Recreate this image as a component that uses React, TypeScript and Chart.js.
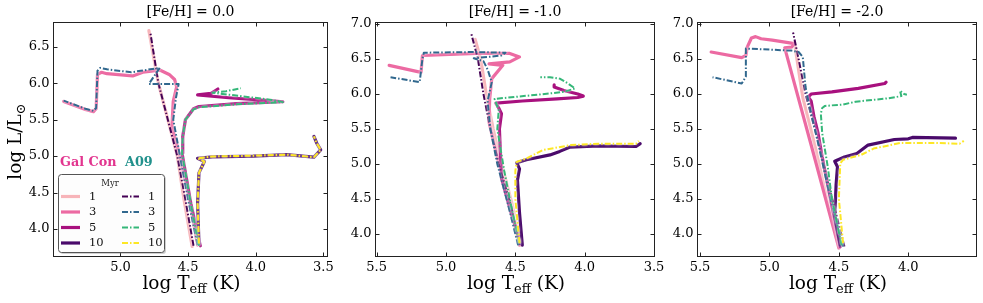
import React, { useEffect, useRef } from "react";
import { Chart, registerables } from "chart.js";
Chart.register(...registerables);

type Track = [number, number][];

// ---------- labels / ticks ----------
const AGES = ["1", "3", "5", "10"];
const TITLES = ["[Fe/H] = 0.0", "[Fe/H] = -1.0", "[Fe/H] = -2.0"];
const X_TICKS = [
  [5.0, 4.5, 4.0, 3.5],
  [5.5, 5.0, 4.5, 4.0, 3.5],
  [5.5, 5.0, 4.5, 4.0],
];
const Y_TICKS = [
  [4.0, 4.5, 5.0, 5.5, 6.0, 6.5],
  [4.0, 4.5, 5.0, 5.5, 6.0, 6.5, 7.0],
  [4.0, 4.5, 5.0, 5.5, 6.0, 6.5, 7.0],
];
const X_RANGE = [
  [3.466, 5.499],
  [3.493, 5.512],
  [3.505, 5.522],
];
const Y_RANGE = [
  [3.616, 6.839],
  [3.671, 7.029],
  [3.671, 7.029],
];

const GALCON_COLORS = ["#f7b4b9", "#ec6aa2", "#a8107e", "#4a0a6b"];
const A09_COLORS = ["#440154", "#31688e", "#35b779", "#fde725"];
const GALCON_TEXT = "#e2358f";
const A09_TEXT = "#21918c";

// ---------- [Fe/H] = 0.0 ----------
const GC_00_1: Track = [[4.47, 3.76], [4.53, 4.4], [4.58, 5.0], [4.65, 5.5], [4.72, 6.0], [4.79, 6.72]];
const GC_00_3: Track = [[4.43, 3.78], [4.49, 4.4], [4.56, 5.0], [4.62, 5.4], [4.61, 5.75], [4.585, 5.95], [4.60, 6.05], [4.64, 6.12], [4.71, 6.18], [4.835, 6.15], [4.91, 6.10], [5.10, 6.13], [5.14, 6.15], [5.17, 6.12], [5.18, 5.65], [5.20, 5.61], [5.26, 5.64], [5.42, 5.75]];
const GC_00_5: Track = [[4.41, 3.77], [4.48, 4.35], [4.545, 5.04], [4.54, 5.27], [4.52, 5.50], [4.46, 5.65], [4.42, 5.68], [4.14, 5.72], [3.80, 5.745], [3.90, 5.76], [4.20, 5.80], [4.43, 5.84], [4.33, 5.86], [4.28, 5.92]];
const GC_00_10: Track = [[4.42, 3.80], [4.43, 4.35], [4.42, 4.77], [4.38, 4.925], [4.43, 4.97], [4.32, 4.99], [4.02, 5.0], [3.77, 5.02], [3.57, 4.985], [3.52, 5.085], [3.55, 5.18], [3.57, 5.27]];
const A09_00_1: Track = [[4.46, 3.77], [4.52, 4.4], [4.58, 5.0], [4.65, 5.5], [4.72, 6.0], [4.78, 6.70]];
const A09_00_3: Track = [[4.43, 3.78], [4.50, 4.4], [4.56, 5.0], [4.61, 5.5], [4.59, 5.80], [4.57, 5.99], [4.79, 5.99], [4.71, 6.21], [4.85, 6.17], [4.92, 6.15], [5.10, 6.19], [5.15, 6.21], [5.17, 6.17], [5.18, 5.66], [5.20, 5.62], [5.26, 5.65], [5.42, 5.76]];
const A09_00_5: Track = [[4.42, 3.77], [4.48, 4.35], [4.545, 5.04], [4.54, 5.27], [4.52, 5.50], [4.46, 5.64], [4.42, 5.67], [4.14, 5.71], [3.80, 5.74], [3.88, 5.77], [4.10, 5.82], [4.32, 5.87], [4.22, 5.89], [4.11, 5.93]];
const A09_00_10: Track = [[4.42, 3.80], [4.43, 4.35], [4.42, 4.77], [4.38, 4.925], [4.43, 4.97], [4.32, 4.995], [4.02, 5.005], [3.77, 5.02], [3.57, 4.985], [3.52, 5.085], [3.55, 5.18], [3.57, 5.27]];

// ---------- [Fe/H] = -1.0 ----------
const GC_10_1: Track = [[4.46, 3.84], [4.52, 4.4], [4.60, 5.0], [4.66, 5.5], [4.71, 6.0], [4.75, 6.5], [4.79, 6.78]];
const GC_10_3: Track = [[4.47, 3.84], [4.55, 4.5], [4.65, 5.25], [4.69, 5.6], [4.685, 5.93], [4.67, 6.22], [4.59, 6.41], [4.69, 6.43], [4.54, 6.46], [4.47, 6.53], [4.54, 6.58], [4.78, 6.58], [5.17, 6.55], [5.18, 6.31], [5.41, 6.41]];
const GC_10_5: Track = [[4.46, 3.86], [4.53, 4.3], [4.60, 4.8], [4.615, 5.5], [4.60, 5.72], [4.62, 5.80], [4.64, 5.87], [4.45, 5.90], [4.20, 5.93], [4.05, 5.95], [4.01, 5.97], [4.05, 6.0], [4.15, 6.05], [4.22, 6.10], [4.22, 6.13]];
const GC_10_10: Track = [[4.45, 3.84], [4.47, 4.3], [4.485, 4.77], [4.47, 4.93], [4.49, 5.02], [4.42, 5.06], [4.25, 5.13], [4.18, 5.18], [4.11, 5.24], [3.90, 5.26], [3.63, 5.25], [3.60, 5.29]];
const A09_10_1: Track = [[4.47, 3.84], [4.53, 4.4], [4.62, 5.0], [4.68, 5.5], [4.73, 6.0], [4.77, 6.5], [4.82, 6.88]];
const A09_10_3: Track = [[4.48, 3.84], [4.55, 4.4], [4.63, 5.0], [4.68, 5.5], [4.70, 5.9], [4.67, 6.17], [4.70, 6.35], [4.73, 6.47], [4.80, 6.51], [4.60, 6.55], [4.57, 6.59], [4.80, 6.60], [5.16, 6.59], [5.17, 6.50], [5.19, 6.17], [5.40, 6.24]];
const A09_10_5: Track = [[4.47, 3.87], [4.53, 4.4], [4.58, 4.9], [4.63, 5.5], [4.62, 5.77], [4.65, 5.93], [4.34, 5.99], [4.15, 6.03], [4.07, 6.08], [4.12, 6.15], [4.18, 6.22], [4.25, 6.24], [4.32, 6.24]];
const A09_10_10: Track = [[4.47, 3.87], [4.50, 4.5], [4.50, 4.9], [4.49, 5.03], [4.42, 5.08], [4.30, 5.20], [4.10, 5.27], [3.90, 5.29], [3.63, 5.29], [3.61, 5.33]];

// ---------- [Fe/H] = -2.0 ----------
const GC_20_1: Track = [[4.495, 3.80], [4.58, 4.45], [4.665, 5.2], [4.76, 5.95], [4.82, 6.74]];
const GC_20_3: Track = [[4.50, 3.80], [4.69, 5.2], [4.89, 6.66], [4.84, 6.67], [4.82, 6.72], [4.98, 6.77], [5.06, 6.79], [5.10, 6.82], [5.13, 6.80], [5.16, 6.67], [5.17, 6.55], [5.20, 6.52], [5.42, 6.60]];
const GC_20_5: Track = [[4.49, 3.82], [4.56, 4.5], [4.62, 5.1], [4.65, 5.44], [4.68, 5.68], [4.70, 5.90], [4.72, 5.96], [4.70, 6.0], [4.55, 6.03], [4.36, 6.08], [4.17, 6.15], [4.16, 6.17]];
const GC_20_10: Track = [[4.49, 3.84], [4.53, 4.25], [4.52, 4.7], [4.51, 4.96], [4.53, 5.04], [4.46, 5.10], [4.37, 5.15], [4.29, 5.27], [4.10, 5.35], [4.00, 5.36], [3.97, 5.38], [3.66, 5.37]];
const A09_20_1: Track = [[4.46, 3.82], [4.56, 4.6], [4.66, 5.4], [4.74, 6.0], [4.79, 6.5], [4.83, 6.88]];
const A09_20_3: Track = [[4.47, 3.82], [4.56, 4.5], [4.65, 5.3], [4.72, 5.9], [4.74, 6.10], [4.75, 6.31], [4.76, 6.53], [4.79, 6.60], [4.84, 6.62], [5.17, 6.65], [5.17, 6.25], [5.20, 6.15], [5.41, 6.24]];
const A09_20_5: Track = [[4.48, 3.84], [4.55, 4.5], [4.58, 4.96], [4.62, 5.44], [4.63, 5.72], [4.62, 5.80], [4.60, 5.83], [4.47, 5.85], [4.38, 5.89], [4.14, 5.94], [4.05, 5.97], [4.06, 6.05], [4.03, 6.0], [4.01, 5.99]];
const A09_20_10: Track = [[4.47, 3.87], [4.50, 4.5], [4.49, 5.01], [4.47, 5.06], [4.34, 5.13], [4.25, 5.22], [4.06, 5.30], [3.80, 5.30], [3.63, 5.29], [3.60, 5.33]];

const GALCON: Track[][] = [
  [GC_00_1, GC_00_3, GC_00_5, GC_00_10],
  [GC_10_1, GC_10_3, GC_10_5, GC_10_10],
  [GC_20_1, GC_20_3, GC_20_5, GC_20_10],
];
const A09: Track[][] = [
  [A09_00_1, A09_00_3, A09_00_5, A09_00_10],
  [A09_10_1, A09_10_3, A09_10_5, A09_10_10],
  [A09_20_1, A09_20_3, A09_20_5, A09_20_10],
];

// ---------- layout ----------
const PANELS = [
  { left: 0, width: 345, yW: 53, padR: 17 },
  { left: 340, width: 330, yW: 35, padR: 15 },
  { left: 662, width: 321, yW: 35, padR: 6 },
];
const H = 303;
const SERIF = '"DejaVu Serif", "DejaVu Sans", serif';
const A09_DASH = [6, 2, 1.5, 2];
const GC_W = 3.2;
const A09_W = 2;
const TEXT = "#000";

function drawSubText(ctx: CanvasRenderingContext2D, parts: [string, boolean][], cx: number, base: number, big: number) {
  const small = big * 0.7;
  let total = 0;
  const widths = parts.map(([t, sub]) => {
    ctx.font = `${sub ? small : big}px ${SERIF}`;
    const w = ctx.measureText(t).width;
    total += w;
    return w;
  });
  let x = cx - total / 2;
  ctx.textAlign = "left";
  ctx.textBaseline = "alphabetic";
  parts.forEach(([t, sub], i) => {
    ctx.font = `${sub ? small : big}px ${SERIF}`;
    ctx.fillText(t, x, base + (sub ? big * 0.2 : 0));
    x += widths[i];
  });
}

const haloPlugin = {
  id: "halo",
  beforeDatasetDraw(chart: any) {
    const ctx = chart.ctx;
    ctx.save();
    ctx.shadowColor = "rgba(255,255,255,1)";
    ctx.shadowBlur = 2.5;
  },
  afterDatasetDraw(chart: any) {
    chart.ctx.restore();
  },
};

function decorPlugin(i: number) {
  return {
    id: "decor" + i,
    afterDraw(chart: any) {
      const { ctx, chartArea: a, scales } = chart;
      ctx.save();
      // frame
      ctx.strokeStyle = "#222";
      ctx.lineWidth = 1;
      ctx.strokeRect(a.left + 0.5, a.top + 0.5, a.right - a.left - 1, a.bottom - a.top - 1);
      // inward ticks on all sides
      const tl = 4.5;
      ctx.beginPath();
      scales.x.ticks.forEach((t: any) => {
        const px = Math.round(scales.x.getPixelForValue(t.value)) + 0.5;
        ctx.moveTo(px, a.bottom);
        ctx.lineTo(px, a.bottom - tl);
        ctx.moveTo(px, a.top);
        ctx.lineTo(px, a.top + tl);
      });
      scales.y.ticks.forEach((t: any) => {
        const py = Math.round(scales.y.getPixelForValue(t.value)) + 0.5;
        ctx.moveTo(a.left, py);
        ctx.lineTo(a.left + tl, py);
        ctx.moveTo(a.right, py);
        ctx.lineTo(a.right - tl, py);
      });
      ctx.stroke();
      // title
      ctx.fillStyle = TEXT;
      ctx.font = `14px ${SERIF}`;
      ctx.textAlign = "center";
      ctx.textBaseline = "alphabetic";
      const cx = (a.left + a.right) / 2;
      ctx.fillText(TITLES[i], cx, 16);
      // x label
      drawSubText(ctx, [["log T", false], ["eff", true], [" (K)", false]], cx + 1, 289, 18.5);
      if (i === 0) {
        // y label
        ctx.save();
        ctx.translate(21, (a.top + a.bottom) / 2 + 2);
        ctx.rotate(-Math.PI / 2);
        drawSubText(ctx, [["log L/L", false], ["\u2299", true]], 0, 0, 18.5);
        ctx.restore();
        // group labels
        ctx.font = `bold 12.8px ${SERIF}`;
        ctx.textAlign = "left";
        ctx.textBaseline = "middle";
        ctx.fillStyle = GALCON_TEXT;
        ctx.fillText("Gal Con", 60, 163);
        ctx.fillStyle = A09_TEXT;
        ctx.fillText("A09", 125, 163);
        // legend box
        const bx = 58.5, by = 174.5, bw = 106, bh = 78;
        ctx.fillStyle = "rgba(120,120,120,0.35)";
        ctx.beginPath();
        ctx.roundRect(bx + 1.5, by + 1.5, bw, bh, 3);
        ctx.fill();
        ctx.fillStyle = "rgba(255,255,255,0.95)";
        ctx.strokeStyle = "#555";
        ctx.lineWidth = 1;
        ctx.beginPath();
        ctx.roundRect(bx, by, bw, bh, 3);
        ctx.fill();
        ctx.stroke();
        ctx.fillStyle = "#222";
        ctx.font = `8.5px ${SERIF}`;
        ctx.textAlign = "center";
        ctx.fillText("Myr", 110, 183.5);
        const rows = [196.5, 212, 227.5, 243];
        AGES.forEach((age, k) => {
          const y = rows[k];
          ctx.save();
          ctx.shadowColor = "rgba(255,255,255,1)";
          ctx.shadowBlur = 2;
          ctx.lineCap = "butt";
          ctx.strokeStyle = GALCON_COLORS[k];
          ctx.lineWidth = GC_W;
          ctx.setLineDash([]);
          ctx.beginPath();
          ctx.moveTo(61, y);
          ctx.lineTo(80, y);
          ctx.stroke();
          ctx.strokeStyle = A09_COLORS[k];
          ctx.lineWidth = A09_W;
          ctx.setLineDash(A09_DASH);
          ctx.beginPath();
          ctx.moveTo(122, y);
          ctx.lineTo(139, y);
          ctx.stroke();
          ctx.restore();
          ctx.fillStyle = "#111";
          ctx.font = `11.5px ${SERIF}`;
          ctx.textAlign = "left";
          ctx.textBaseline = "middle";
          ctx.fillText(age, 89, y + 0.5);
          ctx.fillText(age, 148, y + 0.5);
        });
      }
      ctx.restore();
    },
  };
}

function makeChart(canvas: HTMLCanvasElement, i: number) {
  const p = PANELS[i];
  const datasets: any[] = [];
  GALCON[i].forEach((tr, k) =>
    datasets.push({
      data: tr.map(([x, y]) => ({ x, y })),
      borderColor: GALCON_COLORS[k],
      borderWidth: GC_W,
      showLine: true,
      pointRadius: 0,
      fill: false,
      tension: 0,
      borderCapStyle: "round",
      borderJoinStyle: "round",
    })
  );
  A09[i].forEach((tr, k) =>
    datasets.push({
      data: tr.map(([x, y]) => ({ x, y })),
      borderColor: A09_COLORS[k],
      borderWidth: A09_W,
      borderDash: A09_DASH,
      showLine: true,
      pointRadius: 0,
      fill: false,
      tension: 0,
      borderCapStyle: "butt",
      borderJoinStyle: "round",
    })
  );
  datasets.forEach((d, j) => (d.order = 100 - j));

  const tickFont = { family: SERIF, size: 13 };
  return new Chart(canvas, {
    type: "scatter",
    data: { datasets },
    options: {
      responsive: false,
      animation: false,
      devicePixelRatio: 1,
      layout: { padding: { top: 22, right: p.padR, left: 0, bottom: 0 } },
      plugins: {
        legend: { display: false },
        tooltip: { enabled: false },
        title: { display: false },
      },
      events: [],
      scales: {
        x: {
          type: "linear",
          reverse: true,
          min: X_RANGE[i][0],
          max: X_RANGE[i][1],
          grid: { display: false, drawTicks: false },
          border: { display: false },
          ticks: {
            font: tickFont,
            color: TEXT,
            padding: 3,
            maxRotation: 0,
            autoSkip: false,
            callback: (v: any) => Number(v).toFixed(1),
          },
          afterBuildTicks: (s: any) => {
            s.ticks = X_TICKS[i].map((v) => ({ value: v }));
          },
          afterFit: (s: any) => {
            s.height = 46;
          },
        },
        y: {
          type: "linear",
          min: Y_RANGE[i][0],
          max: Y_RANGE[i][1],
          grid: { display: false, drawTicks: false },
          border: { display: false },
          ticks: {
            font: tickFont,
            color: TEXT,
            padding: 3.5,
            autoSkip: false,
            callback: (v: any) => Number(v).toFixed(1),
          },
          afterBuildTicks: (s: any) => {
            s.ticks = Y_TICKS[i].map((v) => ({ value: v }));
          },
          afterFit: (s: any) => {
            s.width = p.yW;
          },
        },
      },
    } as any,
    plugins: [haloPlugin, decorPlugin(i)],
  });
}

export default function App() {
  const r0 = useRef<HTMLCanvasElement>(null);
  const r1 = useRef<HTMLCanvasElement>(null);
  const r2 = useRef<HTMLCanvasElement>(null);
  const refs = [r0, r1, r2];
  useEffect(() => {
    const charts = refs.map((r, i) => makeChart(r.current as HTMLCanvasElement, i));
    return () => charts.forEach((c) => c.destroy());
  }, []);
  return (
    <div style={{ position: "fixed", left: 0, top: 0, width: 983, height: H, background: "#fff" }}>
      {PANELS.map((p, i) => (
        <canvas
          key={i}
          ref={refs[i]}
          width={p.width}
          height={H}
          style={{ position: "absolute", left: p.left, top: 0, width: p.width, height: H, display: "block" }}
        />
      ))}
    </div>
  );
}
